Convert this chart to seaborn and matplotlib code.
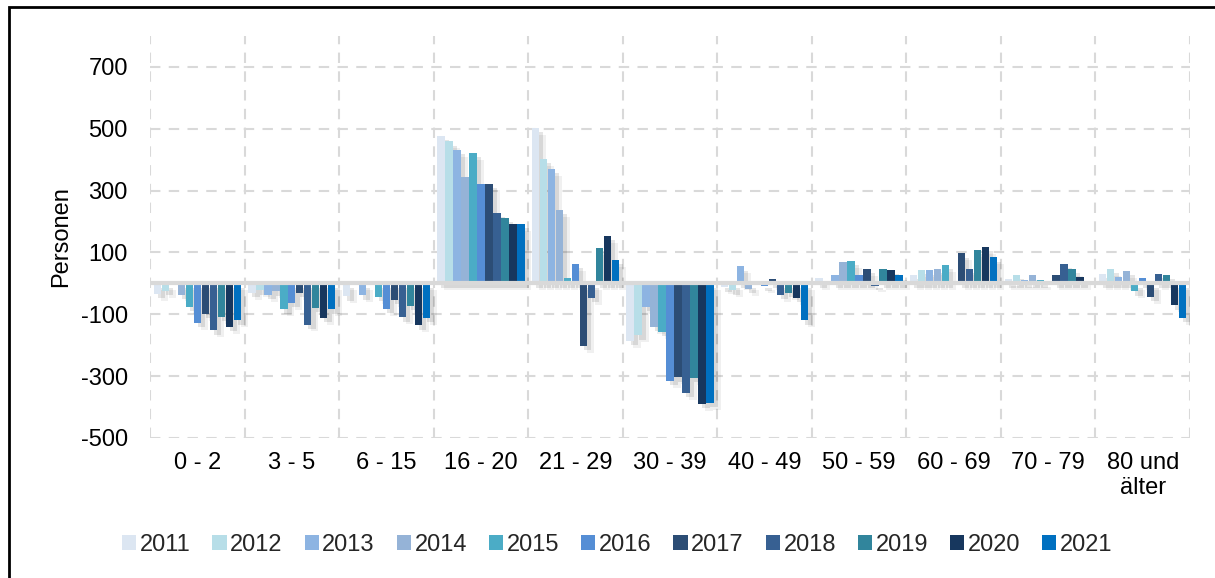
import matplotlib

matplotlib.use("Agg")
import matplotlib.pyplot as plt
import numpy as np
import pandas as pd
import seaborn as sns
from matplotlib import patheffects
from matplotlib.patches import Patch, Rectangle

AGE_GROUPS = ["0 - 2", "3 - 5", "6 - 15", "16 - 20", "21 - 29", "30 - 39",
              "40 - 49", "50 - 59", "60 - 69", "70 - 79", "80 und\nälter"]
YEARS = ["2011", "2012", "2013", "2014", "2015", "2016",
         "2017", "2018", "2019", "2020", "2021"]

# net migration per age group, one list per year
v2011 = [-34, -31, -42, 477, 503, -187, -13, 17, 27, 14, 30]
v2012 = [-25, -23, 0, 459, 402, -168, -23, 0, 44, 27, 47]
v2013 = [0, -37, -39, 432, 369, -76, 55, 27, 42, 11, 22]
v2014 = [-36, -26, 0, 343, 237, -142, -18, 68, 48, 26, 40]
v2015 = [-76, -84, -44, 421, 18, -158, 0, 73, 60, 11, -26]
v2016 = [-127, -64, -82, 320, 62, -315, -10, 27, 0, 0, 17]
v2017 = [-100, -31, -53, 323, -202, -304, 14, 47, 97, 26, -44]
v2018 = [-152, -133, -110, 227, -46, -355, -37, -7, 48, 63, 30]
v2019 = [-109, -79, -73, 213, 114, -305, -30, 47, 107, 47, 27]
v2020 = [-142, -112, -136, 191, 153, -390, -47, 44, 118, 22, -71]
v2021 = [-120, -84, -111, 193, 75, -386, -120, 26, 84, 0, -111]

COLORS = ["#DCE6F2", "#B7DEE8", "#8DB4E2", "#95B3D7", "#4BACC6", "#558ED5",
          "#2C4D75", "#376092", "#31859C", "#17375E", "#0070C0"]


def build_frame() -> pd.DataFrame:
    series = [v2011, v2012, v2013, v2014, v2015, v2016,
              v2017, v2018, v2019, v2020, v2021]
    rows = []
    for year, vals in zip(YEARS, series, strict=True):
        for age, val in zip(AGE_GROUPS, vals, strict=True):
            rows.append({"age": age, "year": year, "value": val})
    return pd.DataFrame(rows)


def main() -> None:
    sns.set_theme(style="white")
    plt.rcParams["font.family"] = ["Liberation Sans", "DejaVu Sans"]
    plt.rcParams["axes.unicode_minus"] = False

    df = build_frame()

    fig = plt.figure(figsize=(12.15, 5.78), dpi=100)
    ax = fig.add_axes([150 / 1215, 1 - 438 / 578, 1040 / 1215, 402 / 578])

    sns.barplot(
        data=df, x="age", y="value", hue="year",
        order=AGE_GROUPS, hue_order=YEARS, palette=COLORS,
        width=0.93, gap=0.08, errorbar=None, legend=False,
        saturation=1, ax=ax,
    )

    # soft drop shadow, roughly like the office chart effect
    shadow = [
        patheffects.SimplePatchShadow(offset=(5, -5), shadow_rgbFace="black", alpha=0.06),
        patheffects.SimplePatchShadow(offset=(3, -3), shadow_rgbFace="black", alpha=0.10),
        patheffects.Normal(),
    ]
    for p in ax.patches:
        p.set_linewidth(0)
        if abs(p.get_height()) > 0:
            p.set_path_effects(shadow)

    ax.axhline(0, color="#D9D9D9", lw=3, zorder=5)

    ax.set_xlim(-0.5, 10.5)
    ax.set_ylim(-500, 800)
    ax.set_yticks(np.arange(-500, 701, 200))
    ax.set_xticks(np.arange(-0.5, 11, 1), minor=True)
    ax.grid(False)
    ax.grid(which="minor", axis="x", color="#D9D9D9", lw=1.5, ls=(0, (5, 4)))
    ax.grid(which="major", axis="y", color="#D9D9D9", lw=1.5, ls=(0, (5, 4)))
    ax.set_axisbelow(True)
    for s in ax.spines.values():
        s.set_visible(False)

    ax.tick_params(axis="both", which="both", length=0, labelsize=17, colors="black")
    ax.tick_params(axis="y", pad=16)
    ax.tick_params(axis="x", pad=10)
    ax.set_xlabel("")
    ax.set_ylabel("Personen", fontsize=17, color="black", labelpad=6)

    handles = [Patch(facecolor=c, edgecolor="none") for c in COLORS]
    fig.legend(handles, YEARS, loc="center", bbox_to_anchor=(0.508, 0.057),
               ncol=11, frameon=False, fontsize=17, handlelength=0.6,
               handleheight=0.6, handletextpad=0.15, columnspacing=0.93)

    fig.add_artist(Rectangle((9 / 1215, -0.02), 1.0, 1 - 7 / 578 + 0.02,
                             transform=fig.transFigure, fill=False,
                             edgecolor="black", lw=2))

    fig.savefig("out.png", dpi=100)
    plt.close(fig)


if __name__ == "__main__":
    main()
